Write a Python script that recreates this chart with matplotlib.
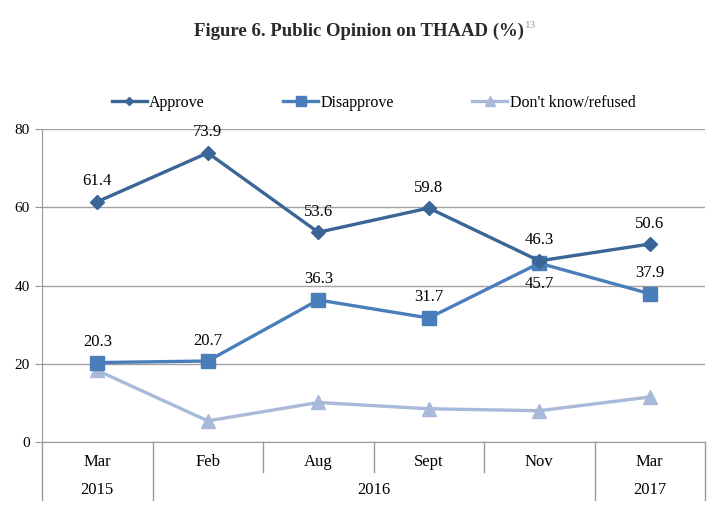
import numpy as np
import matplotlib
matplotlib.use("Agg")
from matplotlib import pyplot as plt
import matplotlib.transforms as mtransforms

months = ["Mar", "Feb", "Aug", "Sept", "Nov", "Mar"]
years = ["2015", "2016", "2017"]
year_span = [(0, 0), (1, 4), (5, 5)]
approve = [61.4, 73.9, 53.6, 59.8, 46.3, 50.6]
disapprove = [20.3, 20.7, 36.3, 31.7, 45.7, 37.9]
dont_know = [18.3, 5.4, 10.1, 8.5, 8.0, 11.5]
# label placement for disapprove: +1 above, -1 below
dis_side = [1, 1, 1, 1, -1, 1]

plt.rcParams["font.family"] = ["Liberation Serif", "DejaVu Serif"]

fig = plt.figure(figsize=(7.18, 5.16), dpi=100)
ax = fig.add_axes([0.0585, 0.1434, 0.9235, 0.6066])

x = np.arange(len(months))
c_app = "#3A6597"
c_dis = "#4A7EBB"
c_dk = "#A8B9D9"

ax.plot(x, approve, color=c_app, lw=2.4, marker="D", ms=7, label="Approve", zorder=4)
ax.plot(x, disapprove, color=c_dis, lw=2.4, marker="s", ms=10, label="Disapprove", zorder=3)
ax.plot(x, dont_know, color=c_dk, lw=2.4, marker="^", ms=10, label="Don't know/refused", zorder=2)

for xi, v in zip(x, approve):
    ax.annotate(f"{v}", (xi, v), xytext=(0, 9), textcoords="offset points",
                ha="center", va="bottom", fontsize=12)
for xi, v, s in zip(x, disapprove, dis_side):
    ax.annotate(f"{v}", (xi, v), xytext=(0, 9 * s), textcoords="offset points",
                ha="center", va="bottom" if s > 0 else "top", fontsize=12)

ax.set_xlim(-0.5, 5.5)
ax.set_ylim(0, 80)
ax.set_yticks([0, 20, 40, 60, 80])
ax.tick_params(axis="y", direction="out", length=5, color="#999999", labelsize=11, pad=4)
ax.set_xticks([])
ax.yaxis.grid(True, color="#a0a0a0", lw=1)
ax.set_axisbelow(True)
for s in ["top", "right"]:
    ax.spines[s].set_visible(False)
ax.spines["left"].set_color("#999999")
ax.spines["bottom"].set_color("#999999")

# category table under the axis
tr = mtransforms.blended_transform_factory(ax.transData, ax.transAxes)
for b in np.arange(-0.5, 6.0, 1.0):
    full = b in (-0.5, 0.5, 4.5, 5.5)
    ax.plot([b, b], [0, -0.185 if full else -0.096], transform=tr,
            color="#999999", lw=1, clip_on=False)
for xi, m in zip(x, months):
    ax.text(xi, -0.064, m, transform=tr, ha="center", va="center", fontsize=12)
for (a, b), yr in zip(year_span, years):
    ax.text((a + b) / 2, -0.153, yr, transform=tr, ha="center", va="center", fontsize=12)

ax.legend(loc="center", bbox_to_anchor=(0.5, 1.083), ncol=3, frameon=False,
          fontsize=11.5, columnspacing=4.9, handlelength=2.2, handletextpad=0.15,
          markerscale=0.65)

t = fig.text(0.5, 0.94, "Figure 6. Public Opinion on THAAD (%)", ha="center", va="center",
             fontsize=13.5, fontweight="bold", color="#2a2a2a")
fig.canvas.draw()
bb = t.get_window_extent()
fig.text(bb.x1 / fig.bbox.width + 0.001, 0.95, "13", ha="left", va="center",
         fontsize=8, color="#8899aa")

fig.savefig("out.png", dpi=100)
